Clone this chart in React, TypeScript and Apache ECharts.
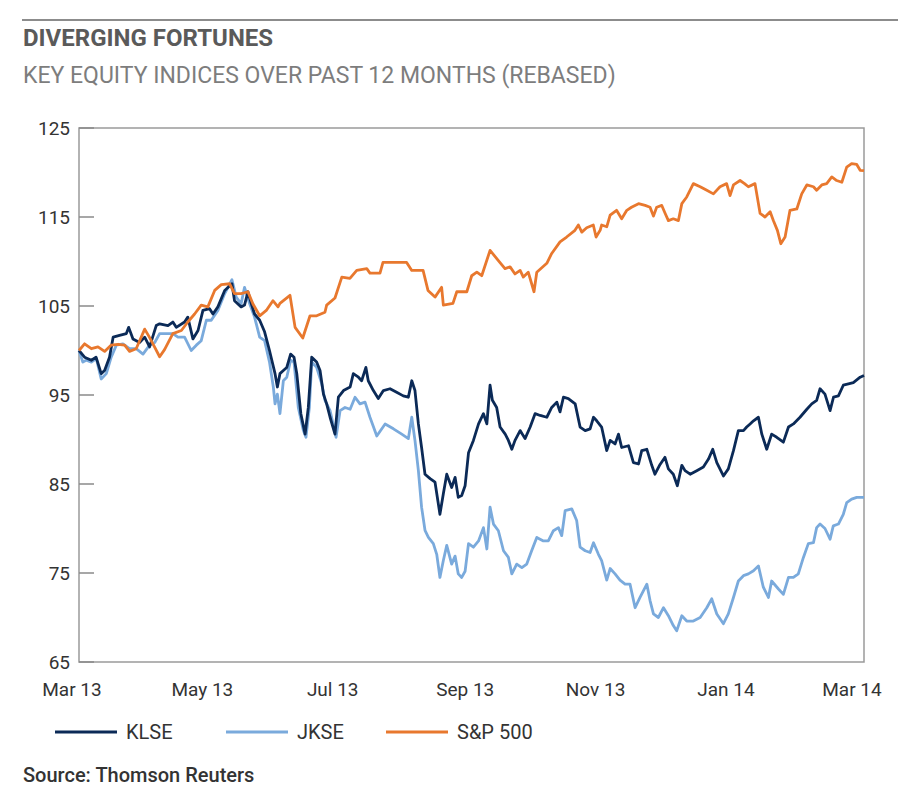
import React, { useEffect, useRef } from "react";
import * as echarts from "echarts";

// x = days since 1 Mar 2013, y = index rebased to 100
const seriesNames = ["KLSE", "JKSE", "S&P 500"];
const seriesColors = ["#0b2a57", "#7aaadc", "#e8782e"];

const monthDays = [0, 61, 122, 184, 245, 306, 365];
const monthLabels = ["Mar 13", "May 13", "Jul 13", "Sep 13", "Nov 13", "Jan 14", "Mar 14"];
const yTicks = [65, 75, 85, 95, 105, 115, 125];

const spxData = [
  [3, 100.0], [5.6, 100.75], [8.8, 100.2], [11.9, 100.4], [15, 99.9], [18, 100.6], [21.3, 100.7],
  [24.4, 100.6], [26.7, 99.9], [29.8, 100.2], [33.8, 102.4], [36, 101.5], [38.4, 100.4], [40.8, 99.3],
  [43.1, 100.1], [47, 101.9], [51, 102.25], [54, 103.2], [57.2, 104.1], [60.3, 105.1], [63.4, 104.9],
  [66.6, 106.75], [69.7, 107.4], [73.6, 107.5], [75.9, 106.4], [79, 106.4], [82.2, 106.6], [84.5, 105.25],
  [87.7, 103.9], [90.8, 104.5], [93.9, 105.6], [96.3, 104.9], [97.2, 105.3], [101.9, 106.2], [104.3, 102.6],
  [107.9, 101.4], [111.3, 103.9], [114.4, 103.9], [118.3, 104.3], [119.1, 105.1], [123, 105.9],
  [126.2, 108.25], [130, 108.1], [133.2, 109], [137.9, 109.2], [139.4, 108.7], [144.1, 108.7],
  [145.5, 109.9], [156.6, 109.9], [159, 109], [164.3, 109], [166.6, 106.75], [169.9, 106], [173, 107.1],
  [173.8, 105.1], [178.3, 105.3], [180.1, 106.6], [184.8, 106.6], [187.1, 108.4], [189.5, 108.8],
  [191.8, 108.4], [195.7, 111.25], [199.6, 110.1], [202.7, 109.2], [205.1, 109.4], [207.4, 108.6],
  [209.8, 109], [211.3, 108.25], [213.6, 108.8], [215.2, 107.5], [216.3, 106.6], [217.6, 108.8],
  [222.3, 109.8], [224.6, 110.9], [228.5, 112.2], [231.6, 112.75], [235.5, 113.5], [237.1, 114.1],
  [238.7, 113.3], [241, 113.8], [244.1, 114.1], [245.4, 112.75], [247.3, 113.5], [248, 114.1],
  [250.4, 113.9], [252, 115.2], [255, 115.75], [257.4, 114.8], [259.8, 115.75], [262, 116.1],
  [265.3, 116.5], [268.4, 116.3], [270.7, 116.1], [272.3, 115.1], [273.8, 116.1], [276.2, 116.3],
  [277.8, 115.4], [279.3, 114.6], [281.6, 114.8], [284, 114.6], [285.6, 116.5], [287.9, 117.25],
  [291, 118.75], [294.2, 118.4], [297.3, 118], [300.4, 117.6], [303.5, 118.4], [306.6, 118.75],
  [308.2, 117.4], [309.8, 118.6], [312.9, 119.1], [315, 118.75], [316.8, 118.4], [319.9, 118.75],
  [322.3, 115.4], [324.6, 115], [327, 115.6], [328.5, 114.6], [330.4, 113.5], [332, 112],
  [334, 112.75], [336.3, 115.75], [339.5, 115.9], [341.8, 117.6], [344.2, 118.6], [347.3, 118.4],
  [348.8, 118], [351.2, 118.6], [353.5, 118.75], [355.9, 119.5], [358.2, 119.1], [360.6, 118.9],
  [362.9, 120.6], [365.2, 121], [367.6, 120.9], [369.2, 120.25], [371, 120.2],
];

const klseData = [
  [3, 100], [5.6, 99.25], [8.8, 98.9], [11, 99.25], [13.4, 97.4], [15, 97.75], [17.3, 99.25],
  [19, 101.5], [22, 101.7], [25.2, 101.9], [26.3, 102.6], [28.3, 101.3], [31.4, 100.9], [33.8, 101.5],
  [36.1, 100.4], [39.2, 102.8], [40.8, 103], [44.7, 102.8], [47, 103.2], [48.6, 102.6], [52.5, 103.2],
  [54, 103.75], [56.4, 101.3], [58.8, 102.25], [61.1, 104.5], [64.2, 104.7], [65.8, 104.1],
  [68.1, 104.9], [71.3, 106.75], [74.7, 107.5], [75.9, 105.6], [79, 104.9], [80.6, 105.1],
  [82.2, 106.6], [83.8, 105.25], [85.3, 104.1], [87.7, 103.4], [90, 102.1], [92.3, 100],
  [94.9, 97.4], [96, 95.9], [97.2, 97.4], [98.8, 97.75], [100.4, 98.1], [102.2, 99.6], [103.8, 99.25],
  [105.1, 97.4], [107, 92.9], [109, 90.6], [110.5, 93.6], [112.1, 99.25], [114.4, 98.7], [116, 97.75],
  [117.6, 95.1], [119.1, 94], [120.7, 92.5], [123, 90.6], [124.6, 94.75], [127, 95.5], [130.1, 95.9],
  [131.6, 97.4], [134, 97], [135.5, 96.6], [137.5, 98.1], [138.6, 96.6], [141, 95.5], [143.3, 94.6],
  [145.7, 95.5], [148.8, 95.7], [151.9, 95.3], [155, 94.9], [157.4, 94.75], [159, 96.6], [160.5, 95.5],
  [162.1, 91.75], [163.6, 89.1], [165.2, 86.1], [167.6, 85.6], [169.9, 85.2], [172.2, 81.6],
  [173.8, 83.9], [175.4, 86.1], [177.7, 84.6], [179.3, 85.75], [180.8, 83.5], [182.4, 83.7],
  [184, 84.8], [185.6, 88.5], [187.9, 89.9], [190.3, 91.75], [192.6, 92.9], [194.2, 91.75],
  [195.7, 96.1], [196.8, 94.4], [198.8, 93.6], [200.4, 91.4], [202.8, 90.6], [204.3, 89.9],
  [205.9, 88.9], [207.4, 89.9], [209.8, 91], [212.1, 90.1], [214.5, 91.4], [216.8, 92.9],
  [219.2, 92.7], [222.3, 92.5], [224.6, 93.6], [227, 94.2], [228.5, 93.1], [230.1, 94.75],
  [232.4, 94.6], [235.6, 94], [237.9, 91.4], [240.3, 91], [242.6, 91.2], [244.2, 92.5], [245.7, 92.1],
  [248, 91.4], [250.4, 88.75], [252, 89.9], [254.3, 89.5], [255.9, 90.6], [257.4, 89.1], [260.6, 89.3],
  [262.9, 87.4], [265.3, 87.25], [266.8, 88.75], [269.2, 88.9], [271.5, 87.1], [273, 86.1],
  [275.4, 87.2], [277.7, 88], [279.3, 86.7], [281.6, 86.1], [283.5, 84.8], [285.6, 87.1],
  [287.1, 86.5], [289.5, 86.1], [292.6, 86.5], [295.7, 86.9], [298.1, 87.8], [300.1, 88.9],
  [302, 87.4], [305.1, 85.9], [307.4, 86.7], [309.8, 88.75], [312.1, 91], [314.5, 91], [316, 91.4],
  [317.6, 91.75], [319.2, 92.1], [321.5, 92.5], [323.1, 90.6], [325.4, 88.9], [327.7, 90.6],
  [330.1, 90.25], [333.2, 89.7], [335.6, 91.4], [337.9, 91.75], [341, 92.5], [344.2, 93.4],
  [346.5, 94], [348.8, 94.4], [350.4, 95.7], [352.7, 95.1], [355.1, 93.25], [356.7, 94.75],
  [359, 94.9], [361.3, 96.1], [363.7, 96.25], [366, 96.4], [369.2, 97], [371, 97.2],
];

const jkseData = [
  [3, 100], [4.8, 98.7], [6.4, 98.9], [8.8, 98.7], [11.1, 99.1], [13.4, 96.8], [15.8, 97.4],
  [18.1, 99.25], [20.5, 100.6], [23.6, 100.75], [26.7, 100.2], [29.8, 100.2], [33, 99.6],
  [36.1, 100.6], [38.5, 100.9], [40.8, 101.9], [44, 101.9], [47, 101.9], [49.4, 101.5], [52.5, 101.5],
  [55.6, 100], [58, 100.6], [60.3, 101.1], [62.7, 103.4], [65, 103.4], [68.1, 104.5], [71.3, 106.4],
  [74.7, 107.95], [76.7, 106], [79, 105.25], [80.6, 107.1], [83, 105.25], [85.3, 103.75], [87.7, 101.5],
  [90, 101.1], [92.3, 98.7], [94.1, 95.9], [94.9, 94], [96, 95.1], [97.2, 92.9], [98.8, 96.6],
  [100.4, 97], [102.2, 98.9], [103.8, 98.7], [105.8, 93.6], [108.2, 91], [109.4, 90.25], [111, 93.6],
  [112.1, 98.7], [114.4, 98.1], [116.8, 96.25], [118.3, 94.4], [120.7, 93.25], [123.5, 90.25],
  [125.4, 93.25], [127.7, 93.6], [130.1, 93.4], [132.4, 94.75], [134.7, 94], [137.1, 94.2],
  [139.4, 92.5], [142.6, 90.4], [146.5, 91.75], [150.4, 91.2], [154.3, 90.6], [157.4, 90.1],
  [159, 92.5], [160.5, 89.9], [162.1, 86.5], [163.6, 82.4], [165.2, 79.8], [166.8, 79], [169.1, 78.3],
  [170.7, 77.1], [172.2, 74.5], [173.8, 76.4], [175.4, 78.1], [177.7, 76], [179.3, 76.9],
  [180.8, 74.9], [182.4, 74.5], [184, 75.2], [185.6, 78.3], [187.9, 77.9], [190.3, 78.6],
  [192.6, 80.1], [194.2, 77.7], [195.7, 82.4], [197.3, 80.5], [199.6, 79.75], [202, 77.5],
  [204.3, 76.75], [205.9, 74.9], [208.2, 76], [210.6, 75.6], [212.9, 76], [215.2, 77.5], [217.6, 79],
  [220.7, 78.6], [223, 78.6], [225.4, 79.75], [227.75, 80.1], [229.3, 79.2], [230.9, 82], [234, 82.2],
  [236.3, 80.9], [237.9, 77.9], [240.3, 77.5], [242.6, 77.3], [244.2, 78.4], [246.5, 77.1],
  [248, 76.4], [250.4, 74.2], [252, 75.5], [254.3, 74.9], [256.6, 74.2], [259, 73.75], [261.3, 73.75],
  [263.7, 71.1], [266, 72.25], [269.2, 73.75], [270.7, 71.9], [272.3, 70.4], [274.6, 70], [277, 71.1],
  [279.3, 70.2], [281.6, 69.1], [283.2, 68.5], [285.6, 70.2], [287.9, 69.6], [291, 69.6], [294.2, 70],
  [297.3, 71.1], [299.6, 72.1], [302, 70.4], [305.1, 69.3], [307.4, 70.4], [309.8, 72.25],
  [312.1, 74.1], [314.5, 74.7], [316.8, 74.9], [319.2, 75.25], [321.5, 75.8], [323.8, 73.4],
  [326.2, 72.25], [327.7, 74.1], [330.9, 73.2], [333.2, 72.6], [335.6, 74.5], [337.9, 74.5],
  [340.2, 74.9], [342.6, 76.75], [344.9, 78.3], [347.3, 78.4], [348.8, 80.1], [350.4, 80.5],
  [352.7, 80], [355.1, 78.8], [356.6, 80.3], [359, 80.5], [361.3, 81.6], [362.9, 82.9], [365.2, 83.3],
  [367.6, 83.5], [371, 83.5],
];

const FONT = "Roboto, 'Noto Sans', sans-serif";

export default function App() {
  const ref = useRef<HTMLDivElement>(null);

  useEffect(() => {
    if (!ref.current) return;
    const chart = echarts.init(ref.current, undefined, { renderer: "svg" });

    const legendBase = {
      top: 717,
      icon: "rect",
      itemWidth: 62,
      itemHeight: 3,
      selectedMode: false,
      textStyle: { fontFamily: FONT, fontSize: 20, color: "#333", padding: [0, 0, 0, 4] },
    };

    const lineSeries = (name: string, data: number[][], color: string, z: number) => ({
      name,
      type: "line",
      xAxisIndex: 0,
      yAxisIndex: 0,
      data,
      showSymbol: false,
      symbol: "none",
      z,
      lineStyle: { color, width: 2.8, join: "round" },
      itemStyle: { color },
    });

    chart.setOption({
      animation: false,
      backgroundColor: "#ffffff",
      textStyle: { fontFamily: FONT },
      grid: [
        {
          left: 79, right: 36, top: 128, bottom: 132,
          show: true, borderColor: "#9a9a9a", borderWidth: 1.5, backgroundColor: "transparent",
        },
        { left: 72, right: 48, top: 128, bottom: 132, show: false },
      ],
      xAxis: [
        { type: "value", gridIndex: 0, min: 3, max: 371, show: false },
        {
          type: "value", gridIndex: 1, min: 0, max: 365,
          axisLine: { show: false }, axisTick: { show: false }, splitLine: { show: false },
          axisLabel: {
            customValues: monthDays,
            formatter: (v: number) => monthLabels[monthDays.indexOf(v)] ?? "",
            fontFamily: FONT, fontSize: 19, color: "#333", margin: 18,
          },
        },
      ],
      yAxis: [
        {
          type: "value", gridIndex: 0, min: 65, max: 125,
          axisLine: { show: false },
          splitLine: { show: false },
          axisTick: {
            show: true, inside: true, length: 15, customValues: yTicks,
            lineStyle: { color: "#8a8a8a", width: 1.5 },
          },
          axisLabel: {
            customValues: yTicks, fontFamily: FONT, fontSize: 19, color: "#333", margin: 9,
          },
        },
        { type: "value", gridIndex: 1, show: false, min: 0, max: 1 },
      ],
      legend: [
        { ...legendBase, left: 50, data: [seriesNames[0]] },
        { ...legendBase, left: 221, data: [seriesNames[1]] },
        { ...legendBase, left: 381, data: [seriesNames[2]] },
      ],
      series: [
        lineSeries(seriesNames[1], jkseData, seriesColors[1], 2),
        lineSeries(seriesNames[0], klseData, seriesColors[0], 3),
        lineSeries(seriesNames[2], spxData, seriesColors[2], 4),
      ],
      graphic: [
        {
          type: "line", silent: true,
          shape: { x1: 22, y1: 20, x2: 898, y2: 20 },
          style: { stroke: "#8c8c8c", lineWidth: 2 },
        },
        {
          type: "text", left: 23, top: 26,
          style: {
            text: "DIVERGING FORTUNES", fontFamily: FONT, fontSize: 24, fontWeight: "bold",
            fill: "#5a5a5a",
          },
        },
        {
          type: "text", left: 23, top: 64,
          style: {
            text: "KEY EQUITY INDICES OVER PAST 12 MONTHS (REBASED)", fontFamily: FONT,
            fontSize: 23, fill: "#7d7d7d",
          },
        },
        {
          type: "text", left: 23, top: 765,
          style: {
            text: "Source: Thomson Reuters", fontFamily: FONT, fontSize: 20, fontWeight: 500,
            fill: "#333",
          },
        },
      ],
    });

    return () => chart.dispose();
  }, []);

  return (
    <div
      ref={ref}
      style={{ position: "fixed", left: 0, top: 0, width: 900, height: 794, background: "#fff" }}
    />
  );
}
